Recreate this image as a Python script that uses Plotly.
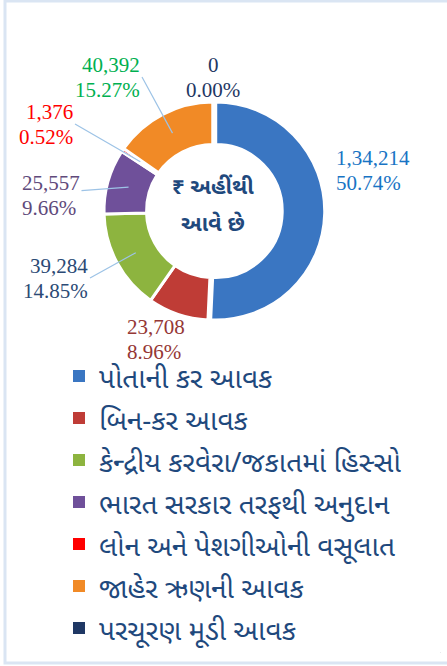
import math
import plotly.graph_objects as go

# ---------------- data ----------------
labels = [
    "પોતાની કર આવક",
    "બિન-કર આવક",
    "કેન્દ્રીય કરવેરા/જકાતમાં હિસ્સો",
    "ભારત સરકાર તરફથી અનુદાન",
    "લોન અને પેશગીઓની વસૂલાત",
    "જાહેર ઋણની આવક",
    "પરચૂરણ મૂડી આવક",
]
values = [134214, 23708, 39284, 25557, 1376, 40392, 0]
center_lines = ["₹ અહીંથી", "આવે છે"]

# ---------------- style ----------------
slice_colors = ["#3A76C2", "#BF3C36", "#8DB43F", "#6F509A", "#FF0000", "#F18A26", "#1F3864"]
label_colors = ["#1874C4", "#953735", "#2B4A75", "#604A7B", "#FF0000", "#00B050", "#1F3864"]
# label placement (pixel x, pixel y, anchor, leader line)
label_places = [
    (334, 170, "left", False),
    (125, 339, "left", False),
    (90, 278, "right", True),
    (20, 195, "left", True),
    (75, 124, "right", True),
    (142, 77, "right", True),
    (213, 77, "center", False),
]

W, H = 447, 666
CX, CY, R = 213, 211, 109
HOLE = 0.61
PULL = 0.025
RD = R * (1 + PULL)  # domain half-size so the drawn radius is R


def indian(n):
    s = str(int(n))
    if len(s) <= 3:
        return s
    head, tail = s[:-3], s[-3:]
    parts = []
    while len(head) > 2:
        parts.insert(0, head[-2:])
        head = head[:-2]
    if head:
        parts.insert(0, head)
    return ",".join(parts) + "," + tail


legend_labels = [f'<span style="font-size:28px">{l}</span>' for l in labels]
total = sum(values)
fig = go.Figure()
# legend carrier (borderless swatches), drawn microscopically in a blank corner
fig.add_trace(go.Pie(
    labels=legend_labels, values=values, sort=False, direction="clockwise",
    marker=dict(colors=slice_colors, line=dict(width=0)),
    textinfo="none", hoverinfo="skip", showlegend=True,
    domain=dict(x=[0.985, 0.986], y=[0.02, 0.0207]),
))
# the visible doughnut
fig.add_trace(go.Pie(
    labels=legend_labels,
    values=values,
    sort=False,
    direction="clockwise",
    rotation=0,
    hole=HOLE,
    pull=[PULL, 0, 0, 0, 0, 0, 0],
    marker=dict(colors=slice_colors, line=dict(color="white", width=3)),
    textinfo="none",
    hoverinfo="label+value+percent",
    showlegend=False,
    domain=dict(x=[(CX - RD) / W, (CX + RD) / W], y=[1 - (CY + RD) / H, 1 - (CY - RD) / H]),
))

annotations = []
cum = 0.0
r_anchor = R * (1 + HOLE) / 2
for v, col, (px, py, anc, leader) in zip(values, label_colors, label_places):
    theta = 2 * math.pi * (cum + v / 2) / total
    cum += v
    text = (f'<span style="font-size:21px">{indian(v)}</span><br>'
            f'<span style="font-size:21px">{v / total * 100:.2f}%</span>')
    font = dict(family="Liberation Serif, Times New Roman, serif", size=19, color=col)
    if leader:
        hx = CX + r_anchor * math.sin(theta)
        hy = CY - r_anchor * math.cos(theta)
        annotations.append(dict(
            x=hx / W, y=1 - hy / H, xref="paper", yref="paper",
            ax=px - hx, ay=py - hy, axref="pixel", ayref="pixel",
            showarrow=True, arrowhead=0, arrowwidth=1.2, arrowcolor="#9DC3E6",
            text=text, align=anc, xanchor=anc, yanchor="middle", font=font,
        ))
    else:
        annotations.append(dict(
            x=px / W, y=1 - py / H, xref="paper", yref="paper", showarrow=False,
            text=text, align=anc, xanchor=anc, yanchor="middle", font=font,
        ))

for line, yy in zip(center_lines, [188, 225]):
    annotations.append(dict(
        x=CX / W, y=1 - yy / H, xref="paper", yref="paper", showarrow=False,
        text=f"<b>{line}</b>", xanchor="center", yanchor="middle",
        font=dict(family="Noto Sans Gujarati, Noto Sans, sans-serif", size=22, color="#1F497D"),
    ))

fig.update_layout(
    width=W, height=H,
    margin=dict(l=0, r=0, t=0, b=0, autoexpand=False),
    paper_bgcolor="white",
    plot_bgcolor="white",
    showlegend=True,
    legend=dict(
        x=59 / W, y=1 - 350 / H, xanchor="left", yanchor="top",
        font=dict(family="Noto Sans Gujarati, Noto Sans, sans-serif", size=30, color="#1F497D"),
        bgcolor="rgba(0,0,0,0)", traceorder="normal",
    ),
    annotations=annotations,
    shapes=[dict(
        type="rect", xref="paper", yref="paper",
        x0=5 / W, x1=1.02, y0=1 - 663 / H, y1=1 - 1 / H,
        line=dict(color="#DAE5F3", width=3), fillcolor="rgba(0,0,0,0)", layer="below",
    )],
)

fig.write_html(
    "out.html",
    config={"displayModeBar": False},
    post_script="document.body.style.margin='0';document.body.style.overflow='hidden';",
)
